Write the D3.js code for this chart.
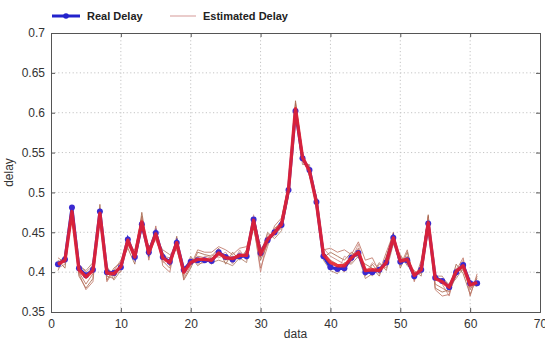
<!DOCTYPE html>
<html>
<head>
<meta charset="utf-8">
<script src="https://cdn.jsdelivr.net/npm/d3@7"></script>
<style>
  body { margin: 0; background: #fff; }
  text { font-family: "Liberation Sans", Arial, sans-serif; }
  .axis text { font-size: 12px; fill: #333; }
  .grid line { stroke: #c4c4c4; stroke-dasharray: 1.2 2.4; }
  .legend text { font-size: 11px; font-weight: bold; fill: #222; }
</style>
</head>
<body>
<svg id="root"></svg>
<script>
// x positions of the samples
const samples = d3.range(1, 62);

const realDelay = [0.410,0.416,0.481,0.405,0.396,0.403,0.476,0.400,0.399,0.406,
  0.441,0.419,0.460,0.425,0.449,0.419,0.413,0.437,0.403,0.413,
  0.415,0.415,0.414,0.425,0.419,0.416,0.420,0.420,0.466,0.424,
  0.440,0.450,0.459,0.503,0.602,0.543,0.528,0.488,0.420,0.406,
  0.404,0.405,0.418,0.424,0.400,0.400,0.403,0.412,0.443,0.413,
  0.415,0.395,0.403,0.461,0.393,0.389,0.381,0.400,0.409,0.386,0.386];

// thick red estimate
const estMain = [0.410,0.415,0.476,0.403,0.394,0.402,0.474,0.399,0.398,0.407,
  0.440,0.419,0.463,0.424,0.448,0.418,0.412,0.437,0.400,0.412,
  0.416,0.416,0.415,0.424,0.418,0.417,0.421,0.421,0.465,0.422,
  0.441,0.450,0.460,0.504,0.605,0.544,0.527,0.487,0.422,0.412,
  0.408,0.408,0.418,0.425,0.402,0.403,0.402,0.412,0.443,0.414,
  0.416,0.396,0.403,0.462,0.392,0.388,0.381,0.401,0.408,0.384,0.387];

// thin estimated runs
const est1 = [0.412,0.420,0.470,0.400,0.385,0.398,0.480,0.395,0.392,0.410,
  0.435,0.425,0.470,0.418,0.452,0.414,0.405,0.440,0.398,0.410,
  0.420,0.418,0.410,0.428,0.415,0.420,0.418,0.425,0.470,0.430,
  0.438,0.455,0.462,0.505,0.612,0.545,0.525,0.490,0.425,0.415,
  0.410,0.400,0.420,0.430,0.395,0.410,0.398,0.418,0.450,0.410,
  0.420,0.390,0.410,0.470,0.385,0.380,0.375,0.395,0.412,0.378,0.392];
const est2 = [0.405,0.410,0.478,0.410,0.400,0.408,0.470,0.405,0.398,0.400,
  0.445,0.415,0.455,0.430,0.440,0.420,0.418,0.430,0.395,0.415,
  0.412,0.420,0.418,0.420,0.425,0.412,0.425,0.418,0.460,0.400,
  0.445,0.448,0.455,0.498,0.598,0.540,0.532,0.485,0.430,0.420,
  0.415,0.410,0.412,0.428,0.405,0.395,0.410,0.405,0.438,0.420,
  0.410,0.400,0.398,0.455,0.398,0.385,0.370,0.405,0.402,0.380,0.388];
const est3 = [0.415,0.405,0.475,0.395,0.380,0.392,0.485,0.390,0.405,0.412,
  0.430,0.410,0.475,0.420,0.445,0.425,0.408,0.445,0.390,0.405,
  0.425,0.422,0.420,0.430,0.410,0.425,0.415,0.428,0.455,0.415,
  0.435,0.452,0.465,0.510,0.615,0.548,0.520,0.492,0.418,0.425,
  0.420,0.415,0.425,0.418,0.410,0.405,0.395,0.420,0.445,0.405,
  0.425,0.392,0.405,0.472,0.380,0.375,0.378,0.410,0.398,0.372,0.395];
const est4 = [0.408,0.418,0.468,0.402,0.392,0.405,0.465,0.398,0.395,0.408,
  0.438,0.422,0.465,0.428,0.455,0.412,0.415,0.432,0.400,0.418,
  0.410,0.412,0.422,0.418,0.422,0.410,0.428,0.415,0.472,0.425,
  0.448,0.445,0.458,0.500,0.605,0.538,0.530,0.482,0.422,0.410,
  0.400,0.420,0.415,0.435,0.398,0.412,0.405,0.410,0.440,0.418,
  0.412,0.398,0.400,0.465,0.390,0.392,0.385,0.398,0.415,0.382,0.384];
const est5 = [0.418,0.412,0.472,0.398,0.378,0.388,0.478,0.388,0.402,0.415,
  0.432,0.428,0.468,0.415,0.458,0.408,0.400,0.442,0.392,0.408,
  0.428,0.425,0.425,0.432,0.428,0.422,0.430,0.432,0.458,0.405,
  0.432,0.458,0.468,0.508,0.608,0.550,0.522,0.495,0.428,0.430,
  0.425,0.428,0.422,0.438,0.415,0.418,0.400,0.425,0.448,0.408,
  0.428,0.388,0.415,0.468,0.378,0.370,0.372,0.402,0.418,0.370,0.398];
const est6 = [0.402,0.422,0.465,0.408,0.402,0.412,0.468,0.408,0.390,0.402,
  0.442,0.418,0.458,0.432,0.442,0.428,0.422,0.428,0.398,0.420,
  0.408,0.415,0.412,0.415,0.412,0.408,0.418,0.412,0.462,0.418,
  0.450,0.442,0.452,0.495,0.600,0.535,0.535,0.480,0.415,0.402,
  0.398,0.412,0.410,0.420,0.392,0.398,0.412,0.402,0.435,0.422,
  0.408,0.402,0.395,0.458,0.395,0.395,0.382,0.392,0.405,0.385,0.382];

const xTicks = [0, 10, 20, 30, 40, 50, 60, 70];
const yTicks = [0.35, 0.4, 0.45, 0.5, 0.55, 0.6, 0.65, 0.7];
const thinColors = ['#b8705c', '#c98a80', '#a86a50', '#d09a94', '#c07868', '#b0806a'];

const margin = { top: 33, right: 5, bottom: 28, left: 51 };
const width = 545 - margin.left - margin.right;
const height = 340 - margin.top - margin.bottom;

const svg = d3.select('#root')
  .attr('width', 545)
  .attr('height', 340);

const g = svg.append('g')
  .attr('transform', `translate(${margin.left}, ${margin.top})`);

const x = d3.scaleLinear().domain([0, 70]).range([0, width]);
const y = d3.scaleLinear().domain([0.35, 0.7]).range([height, 0]);

// grid
g.append('g').attr('class', 'grid')
  .selectAll('line').data(xTicks.slice(1, -1)).enter().append('line')
  .attr('x1', d => x(d)).attr('x2', d => x(d))
  .attr('y1', 0).attr('y2', height);
g.append('g').attr('class', 'grid')
  .selectAll('line').data(yTicks.slice(1, -1)).enter().append('line')
  .attr('y1', d => y(d)).attr('y2', d => y(d))
  .attr('x1', 0).attr('x2', width);

const line = d3.line().x((d, i) => x(samples[i])).y(d => y(d));

[est1, est2, est3, est4, est5, est6].forEach((s, k) => {
  g.append('path').datum(s)
    .attr('fill', 'none')
    .attr('stroke', thinColors[k])
    .attr('stroke-width', 1)
    .attr('stroke-opacity', 0.85)
    .attr('d', line);
});

g.append('path').datum(realDelay)
  .attr('fill', 'none')
  .attr('stroke', '#2a2ad0')
  .attr('stroke-width', 3)
  .attr('d', line);

g.selectAll('.dot').data(realDelay).enter().append('circle')
  .attr('class', 'dot')
  .attr('cx', (d, i) => x(samples[i]))
  .attr('cy', d => y(d))
  .attr('r', 3)
  .attr('fill', '#3a2ad0');

g.append('path').datum(estMain)
  .attr('fill', 'none')
  .attr('stroke', '#e8202c')
  .attr('stroke-width', 3.4)
  .attr('stroke-opacity', 0.9)
  .attr('stroke-linejoin', 'round')
  .attr('d', line);

// axes (inward ticks like a boxed plot)
const axB = d3.axisBottom(x).tickValues(xTicks).tickSize(-4).tickPadding(7).tickFormat(d3.format('d'));
const axL = d3.axisLeft(y).tickValues(yTicks).tickSize(-4).tickPadding(6).tickFormat(d => String(d));
const axT = d3.axisTop(x).tickValues(xTicks).tickSize(-4).tickFormat('');
const axR = d3.axisRight(y).tickValues(yTicks).tickSize(-4).tickFormat('');

g.append('g').attr('class', 'axis').attr('transform', `translate(0, ${height})`).call(axB);
g.append('g').attr('class', 'axis').call(axL);
g.append('g').attr('class', 'axis').call(axT);
g.append('g').attr('class', 'axis').attr('transform', `translate(${width}, 0)`).call(axR);
g.selectAll('.axis path, .axis line').attr('stroke', '#555');

g.append('text')
  .attr('x', width / 2).attr('y', height + 26)
  .attr('text-anchor', 'middle')
  .style('font-size', '12px').style('fill', '#333')
  .text('data');

g.append('text')
  .attr('transform', `translate(${-38}, ${height / 2}) rotate(-90)`)
  .attr('text-anchor', 'middle')
  .style('font-size', '12px').style('fill', '#333')
  .text('delay');

// legend
const legend = svg.append('g').attr('class', 'legend');
legend.append('line')
  .attr('x1', 52).attr('x2', 80).attr('y1', 16).attr('y2', 16)
  .attr('stroke', '#2222cc').attr('stroke-width', 3);
legend.append('circle').attr('cx', 66).attr('cy', 16).attr('r', 2.8).attr('fill', '#2222cc');
legend.append('text').attr('x', 87).attr('y', 20).text('Real Delay');
legend.append('line')
  .attr('x1', 170).attr('x2', 196).attr('y1', 16).attr('y2', 16)
  .attr('stroke', '#dcaaa8').attr('stroke-width', 1.2);
legend.append('text').attr('x', 203).attr('y', 20).text('Estimated Delay');
</script>
</body>
</html>
